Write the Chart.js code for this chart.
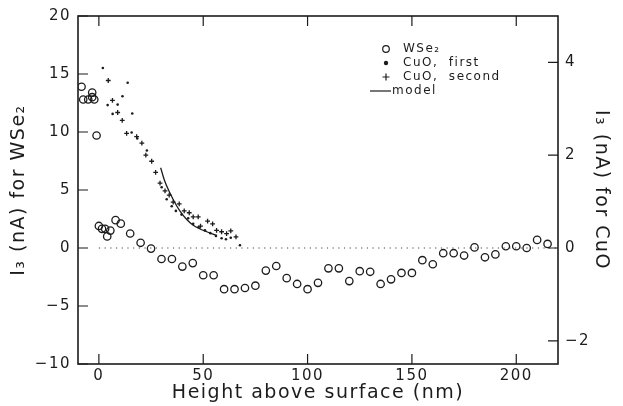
<!DOCTYPE html>
<html>
<head>
<meta charset="utf-8">
<script src="https://cdn.jsdelivr.net/npm/chart.js@4.4.1/dist/chart.umd.min.js"></script>
<style>
  html, body { margin: 0; padding: 0; background: #fff; }
</style>
</head>
<body>
<canvas id="tipChart" width="623" height="406"></canvas>
<script>
// ===== data =====
// WSe2 current, left axis (nA)
const wse2X = [-8.3, -7.5, -5.1, -3.2, -3.2, -2.2, -1.1, 0, 1.5, 3, 4, 5.5, 8, 10.5, 15, 20, 25,
  30, 35, 40, 45, 50, 55, 60, 65, 70, 75, 80, 85, 90, 95, 100, 105, 110, 115, 120, 125, 130,
  135, 140, 145, 150, 155, 160, 165, 170, 175, 180, 185, 190, 195, 200, 205, 210, 215];
const wse2Y = [13.9, 12.8, 12.8, 13.4, 13.0, 12.8, 9.7, 1.9, 1.65, 1.65, 1.0, 1.5, 2.4, 2.1, 1.25, 0.45, -0.05,
  -0.95, -0.95, -1.6, -1.3, -2.35, -2.35, -3.55, -3.55, -3.45, -3.25, -1.95, -1.55, -2.6, -3.1, -3.55, -3.0, -1.75, -1.75, -2.85, -2.0, -2.05,
  -3.1, -2.7, -2.15, -2.15, -1.05, -1.4, -0.45, -0.45, -0.65, 0.05, -0.8, -0.55, 0.15, 0.15, 0, 0.7, 0.35];

// CuO current, right axis (nA)
const cuoFirstX = [1.9, 4.2, 6.6, 9.0, 11.3, 13.8, 15.7, 16.0, 18.4, 23.0, 30.1, 32.5, 34.9, 36.9,
  39.6, 42.8, 45.2, 47.8, 50.8, 53.4, 56.1, 58.8, 60.9, 63.2, 67.6];
const cuoFirstY = [3.88, 3.08, 2.89, 3.09, 3.27, 3.56, 2.49, 2.90, 2.36, 2.10, 1.31, 1.05, 0.90, 0.80,
  0.72, 0.64, 0.52, 0.45, 0.38, 0.32, 0.26, 0.21, 0.19, 0.22, 0.06];

const cuoSecondX = [4.5, 6.5, 9.0, 11.2, 13.3, 18.1, 20.6, 22.5, 25.3, 27.2, 29.3, 31.7, 33.7, 35.6,
  38.5, 40.9, 43.3, 45.2, 47.6, 48.7, 52.1, 54.5, 56.4, 58.8, 61.2, 63.2, 65.7];
const cuoSecondY = [3.61, 3.18, 2.92, 2.75, 2.47, 2.40, 2.26, 2.00, 1.87, 1.63, 1.40, 1.23, 1.14, 0.99,
  0.95, 0.80, 0.76, 0.67, 0.67, 0.47, 0.58, 0.52, 0.38, 0.35, 0.31, 0.37, 0.24];

const modelX = [29.6, 31.5, 34, 36.5, 38.8, 42, 45.2, 48.5, 51.7, 54, 56.5];
const modelY = [1.73, 1.45, 1.19, 0.97, 0.80, 0.62, 0.49, 0.41, 0.35, 0.31, 0.27];

// dotted zero reference
const zeroX = [0, 220];
const zeroY = [0, 0];

const xTicks = [0, 50, 100, 150, 200];
const leftTicks = [-10, -5, 0, 5, 10, 15, 20];
const rightTicks = [-2, 0, 2, 4];

const INK = '#1c1c1c';
const FONT = 'DejaVu Sans';

const pts = (xs, ys) => xs.map((x, i) => ({ x: x, y: ys[i] }));
const fmt = v => (v < 0 ? '\u2212' + Math.abs(v) : String(v));

// frame + inward tick marks
const frameTicks = {
  id: 'frameTicks',
  beforeDraw(chart) {
    chart.ctx.letterSpacing = '1.5px';
  },
  afterDatasetsDraw(chart) {
    const { ctx, chartArea: a, scales } = chart;
    const len = 10;
    ctx.save();
    ctx.strokeStyle = INK;
    ctx.lineWidth = 1.6;
    ctx.strokeRect(a.left, a.top, a.right - a.left, a.bottom - a.top);
    ctx.lineWidth = 1.2;
    ctx.beginPath();
    xTicks.forEach(v => {
      const px = scales.x.getPixelForValue(v);
      ctx.moveTo(px, a.bottom); ctx.lineTo(px, a.bottom - len);
      ctx.moveTo(px, a.top); ctx.lineTo(px, a.top + len);
    });
    leftTicks.forEach(v => {
      const py = scales.y.getPixelForValue(v);
      ctx.moveTo(a.left, py); ctx.lineTo(a.left + len, py);
    });
    rightTicks.forEach(v => {
      const py = scales.y2.getPixelForValue(v);
      ctx.moveTo(a.right, py); ctx.lineTo(a.right - len, py);
    });
    ctx.stroke();
    ctx.restore();
  }
};

// legend in the upper right of the plot
const innerLegend = {
  id: 'innerLegend',
  afterDraw(chart) {
    const ctx = chart.ctx;
    const ds = chart.data.datasets;
    const sx = 386, tx = 403;
    const rows = [49, 63, 77, 91];
    ctx.save();
    ctx.fillStyle = INK;
    ctx.strokeStyle = INK;
    ctx.font = '12px "' + FONT + '"';
    ctx.textBaseline = 'middle';
    // WSe2
    ctx.lineWidth = 1.2;
    ctx.beginPath(); ctx.arc(sx, rows[0], 3.3, 0, Math.PI * 2); ctx.stroke();
    ctx.fillText(ds[0].label, tx, rows[0]);
    // first
    ctx.beginPath(); ctx.arc(sx, rows[1], 2.2, 0, Math.PI * 2); ctx.fill();
    ctx.fillText(ds[1].label, tx, rows[1]);
    // second
    ctx.beginPath();
    ctx.moveTo(sx - 3.5, rows[2]); ctx.lineTo(sx + 3.5, rows[2]);
    ctx.moveTo(sx, rows[2] - 3.5); ctx.lineTo(sx, rows[2] + 3.5);
    ctx.stroke();
    ctx.fillText(ds[2].label, tx, rows[2]);
    // model
    ctx.beginPath(); ctx.moveTo(370, rows[3]); ctx.lineTo(391, rows[3]); ctx.stroke();
    ctx.fillText(ds[3].label, 392, rows[3]);
    ctx.restore();
  }
};

const tickFont = { family: FONT, size: 15 };
const titleFont = { family: FONT, size: 19 };

new Chart(document.getElementById('tipChart'), {
  type: 'scatter',
  data: {
    datasets: [
      {
        label: 'WSe\u2082',
        data: pts(wse2X, wse2Y),
        yAxisID: 'y',
        pointStyle: 'circle',
        pointRadius: 3.7,
        borderColor: INK,
        backgroundColor: 'rgba(0,0,0,0)',
        borderWidth: 1.3
      },
      {
        label: 'CuO,  first',
        data: pts(cuoFirstX, cuoFirstY),
        yAxisID: 'y2',
        pointStyle: 'circle',
        pointRadius: 1.3,
        borderWidth: 0,
        backgroundColor: INK
      },
      {
        label: 'CuO,  second',
        data: pts(cuoSecondX, cuoSecondY),
        yAxisID: 'y2',
        pointStyle: 'cross',
        pointRadius: 2.4,
        borderColor: INK,
        borderWidth: 1.3
      },
      {
        label: 'model',
        data: pts(modelX, modelY),
        yAxisID: 'y2',
        showLine: true,
        cubicInterpolationMode: 'monotone',
        pointRadius: 0,
        borderColor: INK,
        borderWidth: 1.3
      },
      {
        label: 'zero',
        data: pts(zeroX, zeroY),
        yAxisID: 'y',
        showLine: true,
        pointRadius: 0,
        borderColor: '#444',
        borderWidth: 1,
        borderDash: [1.2, 4.5]
      }
    ]
  },
  options: {
    responsive: false,
    animation: false,
    devicePixelRatio: 1,
    layout: { padding: { top: 14, right: 0, bottom: 0, left: 0 } },
    plugins: {
      legend: { display: false },
      tooltip: { enabled: false }
    },
    scales: {
      x: {
        type: 'linear',
        min: -10,
        max: 220,
        afterBuildTicks: s => { s.ticks = xTicks.map(v => ({ value: v })); },
        afterFit: s => { s.height = 42; },
        grid: { display: false, drawTicks: false },
        border: { display: false },
        ticks: { font: tickFont, color: INK, padding: 3, maxRotation: 0, callback: fmt },
        title: {
          display: true,
          text: 'Height above surface (nm)',
          font: titleFont,
          color: INK,
          padding: { top: 0, bottom: 2 }
        }
      },
      y: {
        type: 'linear',
        position: 'left',
        min: -10,
        max: 20,
        afterBuildTicks: s => { s.ticks = leftTicks.map(v => ({ value: v })); },
        afterFit: s => { s.width = 78; },
        grid: { display: false, drawTicks: false },
        border: { display: false },
        ticks: { font: tickFont, color: INK, padding: 7, callback: fmt },
        title: {
          display: true,
          text: 'I\u2083 (nA) for WSe\u2082',
          font: titleFont,
          color: INK,
          padding: { top: 8, bottom: 0 }
        }
      },
      y2: {
        type: 'linear',
        position: 'right',
        min: -2.5,
        max: 5,
        afterBuildTicks: s => { s.ticks = rightTicks.map(v => ({ value: v })); },
        afterFit: s => { s.width = 65; },
        grid: { display: false, drawTicks: false },
        border: { display: false },
        ticks: { font: tickFont, color: INK, padding: 7, callback: fmt },
        title: {
          display: true,
          text: 'I\u2083 (nA) for CuO',
          font: titleFont,
          color: INK,
          padding: { top: 11, bottom: 0 }
        }
      }
    }
  },
  plugins: [frameTicks, innerLegend]
});
</script>
</body>
</html>
